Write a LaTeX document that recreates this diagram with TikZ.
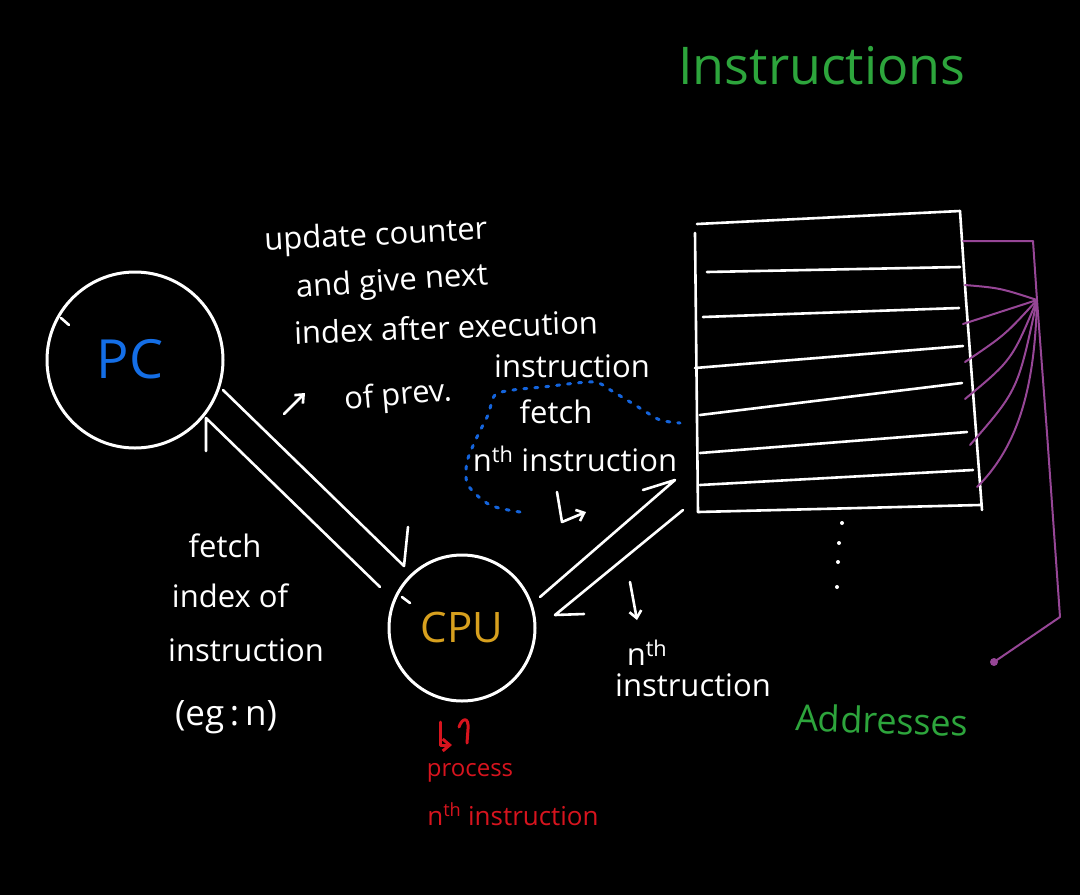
\documentclass[tikz,border=0pt]{standalone}
\usepackage{fontspec}
\setmainfont{Open Sans}
\usetikzlibrary{arrows.meta}
\definecolor{pcblue}{RGB}{20,110,230}
\definecolor{cpugold}{RGB}{215,160,30}
\definecolor{grn}{RGB}{45,165,60}
\definecolor{purp}{RGB}{150,70,150}
\definecolor{redc}{RGB}{215,20,30}
\definecolor{dotblue}{RGB}{20,100,220}
\begin{document}
\begin{tikzpicture}[x=1pt,y=-1pt,line cap=round,line join=round,
  wline/.style={draw=white,line width=2.6pt},
  wtext/.style={text=white,inner sep=0pt,font=\fontsize{31}{34}\selectfont},
  rtext/.style={text=redc,inner sep=0pt},
  gtext/.style={text=grn,inner sep=0pt},
  plin/.style={draw=purp,line width=2pt},
  blob/.style={circle,draw=white,line width=3pt,inner sep=0pt},
  barb/.style={-{Straight Barb[length=7pt,width=12pt]}}]
\fill[black] (0,0) rectangle (1080,895);
\useasboundingbox (0,0) rectangle (1080,895);

% title labels
\node[gtext,font=\fontsize{52}{56}\selectfont] (instr) at (822,66) {Instructions};
\node[gtext,font=\fontsize{36}{40}\selectfont,rotate=-2] (addr) at (882,720) {Addresses};

% PC and CPU
\node[blob,minimum size=176pt] (pc) at (135,360) {};
\node[text=pcblue,font=\fontsize{54}{56}\selectfont] (pclbl) at (130,359) {PC};
\draw[wline] (61,318) -- (69,325);
\node[blob,minimum size=146pt] (cpu) at (462,628) {};
\node[text=cpugold,font=\fontsize{42}{44}\selectfont] (cpulbl) at (462,627) {CPU};
\draw[wline] (402,597) -- (410,603);

% PC <-> CPU harpoons
\coordinate (a1) at (223,390);
\coordinate (a2) at (404,566);
\coordinate (a3) at (408,527);
\draw[wline] (a1) -- (a2) -- (a3);
\coordinate (b1) at (380,587);
\coordinate (b2) at (206,418);
\coordinate (b3) at (206,451);
\draw[wline] (b1) -- (b2) -- (b3);

% CPU <-> memory harpoons
\coordinate (c1) at (540,597);
\coordinate (c2) at (675,480);
\coordinate (c3) at (643,490);
\draw[wline] (c1) -- (c2) -- (c3);
\coordinate (d1) at (683,510);
\coordinate (d2) at (555,615);
\coordinate (d3) at (584,614);
\draw[wline] (d1) -- (d2) -- (d3);

% memory table
\draw[wline] (697,224) -- (960,211);
\draw[wline] (960,211) -- (966,300) -- (982,510);
\draw[wline] (695,233) -- (698,512);
\draw[wline] (707,272) -- (960,267);
\draw[wline] (703,317) -- (959,308);
\draw[wline] (695,368) -- (963,346);
\draw[wline] (700,415) -- (962,383);
\draw[wline] (700,453) -- (967,432);
\draw[wline] (700,485) -- (973,470);
\draw[wline] (698,512) -- (980,505);
\foreach \p in {(842,523),(839,543),(838,562),(837,587)} \fill[white] \p circle (2pt);

% purple address lines
\draw[plin] (963,241) -- (1033,241) -- (1037,300) -- (1047,433) -- (1060,617) -- (994,662);
\fill[purp] (994,662) circle (4pt);
\draw[plin] (965,285) .. controls (1000,288) .. (1037,300);
\draw[plin] (963,324) .. controls (1000,312) .. (1037,300);
\draw[plin] (965,362) .. controls (1005,335) .. (1037,300);
\draw[plin] (965,399) .. controls (1012,360) .. (1037,300);
\draw[plin] (970,445) .. controls (1018,390) .. (1037,300);
\draw[plin] (977,487) .. controls (1025,440) and (1035,370) .. (1037,300);

% upper text
\node[wtext,rotate=3] (t1) at (376,237) {update counter};
\node[wtext,rotate=4] (t2) at (392,283) {and give next};
\node[wtext,rotate=2] (t3) at (446,327) {index after execution};
\node[wtext] (t4) at (572,366) {instruction};
\node[wtext,rotate=5] (t5) at (398,397) {of prev.};
\draw[wline,barb] (284,414) -- (305,393);

% fetch nth instruction (blue dotted)
\draw[dotblue,line width=3pt,dash pattern=on 3pt off 8pt]
  plot[smooth] coordinates {(520,512) (490,505) (468,485) (467,462) (477,437) (488,415) (495,395) (513,390) (543,387) (593,382) (612,391) (643,410) (660,420) (680,423)};
\node[wtext] (t6) at (556,412) {fetch};
\node[wtext] (t7) at (575,459) {n\textsuperscript{th} instruction};
\draw[wline,barb] (557,492) -- (562,522) -- (586,512);

% left text
\node[wtext] (l1) at (225,546) {fetch};
\node[wtext] (l2) at (230,596) {index of};
\node[wtext] (l3) at (246,650) {instruction};
\node[wtext,font=\fontsize{35}{38}\selectfont] (l4) at (226,717) {(eg\,:\,n)};

% nth instruction under arrows
\draw[wline,barb] (630,582) -- (637,620);
\node[wtext] (n1) at (647,653) {n\textsuperscript{th}};
\node[wtext] (n2) at (693,685) {instruction};

% red process text
\draw[redc,line width=3pt,barb] (440,722) -- (440,745) -- (452,745);
\draw[redc,line width=3pt] (459,727) .. controls (462,718) and (469,716) .. (468,729) -- (467,743);
\node[rtext,font=\fontsize{24}{26}\selectfont] (p1) at (470,773) {process};
\node[rtext,font=\fontsize{26}{28}\selectfont] (p2) at (513,814) {n\textsuperscript{th} instruction};
\end{tikzpicture}
\end{document}
